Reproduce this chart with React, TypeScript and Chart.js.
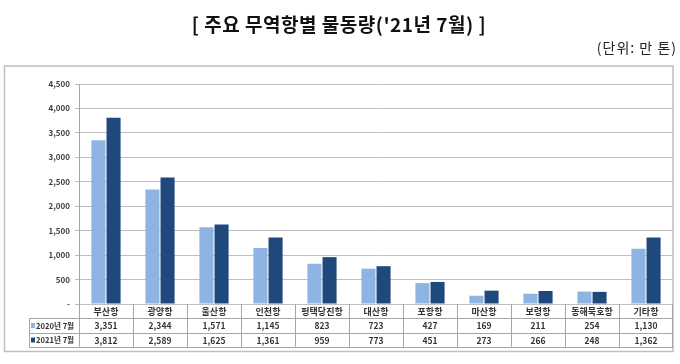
import React, { useEffect, useRef } from 'react';
import { Chart, registerables } from 'chart.js';

Chart.register(...registerables);

const titleText = "[ 주요 무역항별 물동량('21년 7월) ]";
const unitText = '(단위: 만 톤)';
const categories = ['부산항', '광양항', '울산항', '인천항', '평택당진항', '대산항', '포항항', '마산항', '보령항', '동해묵호항', '기타항'];
const seriesNames = ['2020년 7월', '2021년 7월'];
const series2020 = [3351, 2344, 1571, 1145, 823, 723, 427, 169, 211, 254, 1130];
const series2021 = [3812, 2589, 1625, 1361, 959, 773, 451, 273, 266, 248, 1362];
const seriesColors = ['#8DB4E2', '#1F497D'];
const yMax = 4500;
const yStep = 500;

const FONT = '"Noto Sans CJK KR", "Noto Sans", sans-serif';

const decorPlugin = {
  id: 'decor',
  beforeDraw(chart: any) {
    const { ctx } = chart;
    ctx.save();
    ctx.fillStyle = '#ffffff';
    ctx.fillRect(0, 0, chart.width, chart.height);
    // title
    ctx.fillStyle = '#111111';
    ctx.font = `bold 19px ${FONT}`;
    (ctx as any).letterSpacing = '0.5px';
    ctx.textAlign = 'center';
    ctx.textBaseline = 'middle';
    ctx.fillText(titleText, 339, 25);
    // unit
    ctx.font = `14px ${FONT}`;
    (ctx as any).letterSpacing = '1px';
    ctx.textAlign = 'right';
    ctx.fillStyle = '#222222';
    ctx.fillText(unitText, 677, 48);
    (ctx as any).letterSpacing = '0px';
    // outer box
    ctx.strokeStyle = '#BFBFBF';
    ctx.lineWidth = 1.5;
    ctx.strokeRect(4.5, 66, 668.5, 285.5);
    ctx.restore();
  },
  afterDraw(chart: any) {
    const { ctx, chartArea } = chart;
    const n = categories.length;
    const cw = (chartArea.right - chartArea.left) / n;
    const top = chartArea.bottom;
    const rowH = 14.4;
    const rows = [top, top + rowH, top + 2 * rowH, top + 3 * rowH];
    const tableLeft = 29;
    const a = (v: number) => Math.round(v) + 0.5;
    ctx.save();
    ctx.strokeStyle = '#A6A6A6';
    ctx.lineWidth = 1;
    ctx.beginPath();
    for (let r = 1; r <= 3; r++) {
      ctx.moveTo(tableLeft, a(rows[r]));
      ctx.lineTo(chartArea.right, a(rows[r]));
    }
    for (let i = 0; i <= n; i++) {
      const xx = a(chartArea.left + i * cw - (i === n ? 1 : 0));
      ctx.moveTo(xx, top);
      ctx.lineTo(xx, rows[3]);
    }
    ctx.moveTo(a(tableLeft), rows[1]);
    ctx.lineTo(a(tableLeft), rows[3]);
    ctx.stroke();

    ctx.textAlign = 'center';
    ctx.textBaseline = 'middle';
    ctx.fillStyle = '#333333';
    const seriesData = [series2020, series2021];
    for (let i = 0; i < n; i++) {
      const cx = chartArea.left + (i + 0.5) * cw;
      ctx.font = `bold 9px ${FONT}`;
      ctx.fillText(categories[i], cx, (rows[0] + rows[1]) / 2 + 0.5);
      ctx.font = `bold 8.5px ${FONT}`;
      for (let s = 0; s < 2; s++) {
        ctx.fillText(seriesData[s][i].toLocaleString('en-US'), cx, (rows[s + 1] + rows[s + 2]) / 2 + 0.5);
      }
    }
    ctx.textAlign = 'left';
    for (let s = 0; s < 2; s++) {
      const cy = (rows[s + 1] + rows[s + 2]) / 2;
      ctx.fillStyle = seriesColors[s];
      ctx.fillRect(31, cy - 2.5, 4, 5);
      ctx.fillStyle = '#333333';
      ctx.font = `bold 7.6px ${FONT}`;
      ctx.fillText(seriesNames[s], 36, cy + 0.5);
    }
    ctx.restore();
  },
};

export default function App() {
  const ref = useRef<HTMLCanvasElement>(null);
  useEffect(() => {
    if (!ref.current) return;
    const chart = new Chart(ref.current, {
      type: 'bar',
      data: {
        labels: categories,
        datasets: [
          {
            label: seriesNames[0],
            data: series2020,
            backgroundColor: seriesColors[0],
            borderWidth: 0,
            categoryPercentage: 0.56,
            barPercentage: 0.93,
          },
          {
            label: seriesNames[1],
            data: series2021,
            backgroundColor: seriesColors[1],
            borderWidth: 0,
            categoryPercentage: 0.56,
            barPercentage: 0.93,
          },
        ],
      },
      options: {
        responsive: false,
        animation: false,
        layout: { padding: { left: 0, right: 7, top: 84, bottom: 0 } },
        plugins: { legend: { display: false }, tooltip: { enabled: false } },
        scales: {
          x: {
            grid: { display: false },
            border: { display: false },
            ticks: { display: false },
            afterFit: (s: any) => {
              s.height = 60;
            },
          },
          y: {
            min: 0,
            max: yMax,
            ticks: {
              stepSize: yStep,
              padding: 5,
              color: '#404040',
              font: { family: FONT, size: 8, weight: 'bold' },
              callback: (v: any) => (Number(v) === 0 ? '-' : Number(v).toLocaleString('en-US')),
            },
            grid: { color: '#BFBFBF', tickLength: 4, lineWidth: 1 },
            border: { color: '#A6A6A6' },
            afterFit: (s: any) => {
              s.width = 79;
            },
          },
        },
      },
      plugins: [decorPlugin],
    } as any);
    return () => chart.destroy();
  }, []);
  return (
    <div style={{ position: 'fixed', left: 0, top: 0, width: 680, height: 364, background: '#fff' }}>
      <canvas ref={ref} width={680} height={364} style={{ display: 'block', width: 680, height: 364 }} />
    </div>
  );
}
